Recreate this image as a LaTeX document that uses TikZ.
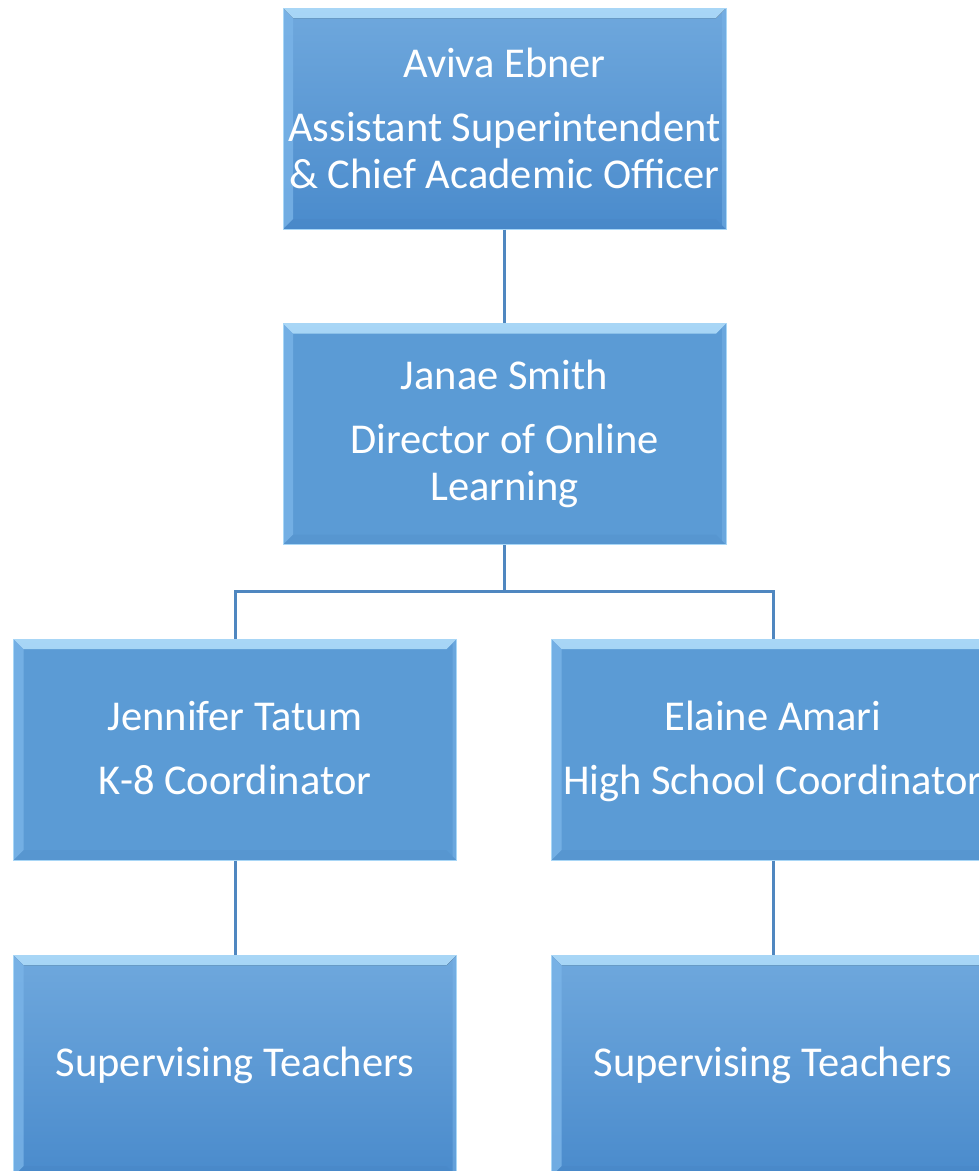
\documentclass[tikz,border=0pt]{standalone}
\usepackage{fontspec}
\setmainfont{Carlito}
\usepackage{tikz}
\usetikzlibrary{positioning,calc}
\definecolor{boxblue}{HTML}{5B9BD5}
\definecolor{boxtop}{HTML}{6FA8DD}
\definecolor{boxbot}{HTML}{4A8BCC}
\definecolor{bevelhi}{HTML}{A8D6F6}
\definecolor{bevelside}{HTML}{7AB4E8}
\definecolor{linkblue}{HTML}{4F87C0}
\tikzset{
  bevel/.style={path picture={
    \fill[top color=bevelhi, bottom color=bevelside]
      (path picture bounding box.north west) -- (path picture bounding box.north east)
      -- ([xshift=-10pt,yshift=-10pt]path picture bounding box.north east)
      -- ([xshift=10pt,yshift=-10pt]path picture bounding box.north west) -- cycle;
    \fill[bevelside, opacity=0.8]
      (path picture bounding box.north west) -- ([xshift=10pt,yshift=-10pt]path picture bounding box.north west)
      -- ([xshift=10pt,yshift=10pt]path picture bounding box.south west)
      -- (path picture bounding box.south west) -- cycle;
    \fill[boxbot!90!black, opacity=0.15]
      (path picture bounding box.south west) -- (path picture bounding box.south east)
      -- ([xshift=-10pt,yshift=10pt]path picture bounding box.south east)
      -- ([xshift=10pt,yshift=10pt]path picture bounding box.south west) -- cycle;
    \fill[bevelside, opacity=0.5]
      (path picture bounding box.north east) -- ([xshift=-4pt,yshift=-4pt]path picture bounding box.north east)
      -- ([xshift=-4pt,yshift=4pt]path picture bounding box.south east)
      -- (path picture bounding box.south east) -- cycle;
  }},
  orgbox/.style={rectangle, bevel, draw=bevelhi, line width=1pt,
    minimum width=443pt, minimum height=221pt, inner sep=0pt,
    text=white, align=center, font=\fontsize{42.5}{47}\selectfont},
  shaded box/.style={orgbox, top color=boxtop, bottom color=boxbot},
  flat box/.style={orgbox, fill=boxblue},
  link/.style={draw=linkblue, line width=3pt}
}
\newcommand{\toprule}{\rule{0pt}{41pt}}
\begin{document}
\begin{tikzpicture}[x=1pt,y=-1pt]
\useasboundingbox (0,0) rectangle (979,1171);
\clip (0,0) rectangle (979,1171);
% boxes
\node[shaded box] (ceo) at (504.5,118.5) {Aviva Ebner\\[17pt]Assistant Superintendent\\\& Chief Academic Officer};
\node[flat box] (dir) at (504.5,434) {Janae Smith\\[17pt]Director of Online\\Learning};
\node[flat box] (kcoord) at (235,749.5) {\toprule Jennifer Tatum\\[17pt]K-8 Coordinator\strut};
\node[flat box] (hcoord) at (773,749.5) {\toprule Elaine Amari\\[17pt]High School Coordinator\strut};
\node[shaded box] (kteach) at (235,1065.5) {Supervising Teachers};
\node[shaded box] (hteach) at (773,1065.5) {Supervising Teachers};
% links
\coordinate (split) at (504.5,591);
\draw[link] (ceo) -- (dir);
\draw[link] (dir) -- (split) -| (kcoord);
\draw[link] (split) -| (hcoord);
\draw[link] (kcoord) -- (kteach);
\draw[link] (hcoord) -- (hteach);
\end{tikzpicture}
\end{document}
